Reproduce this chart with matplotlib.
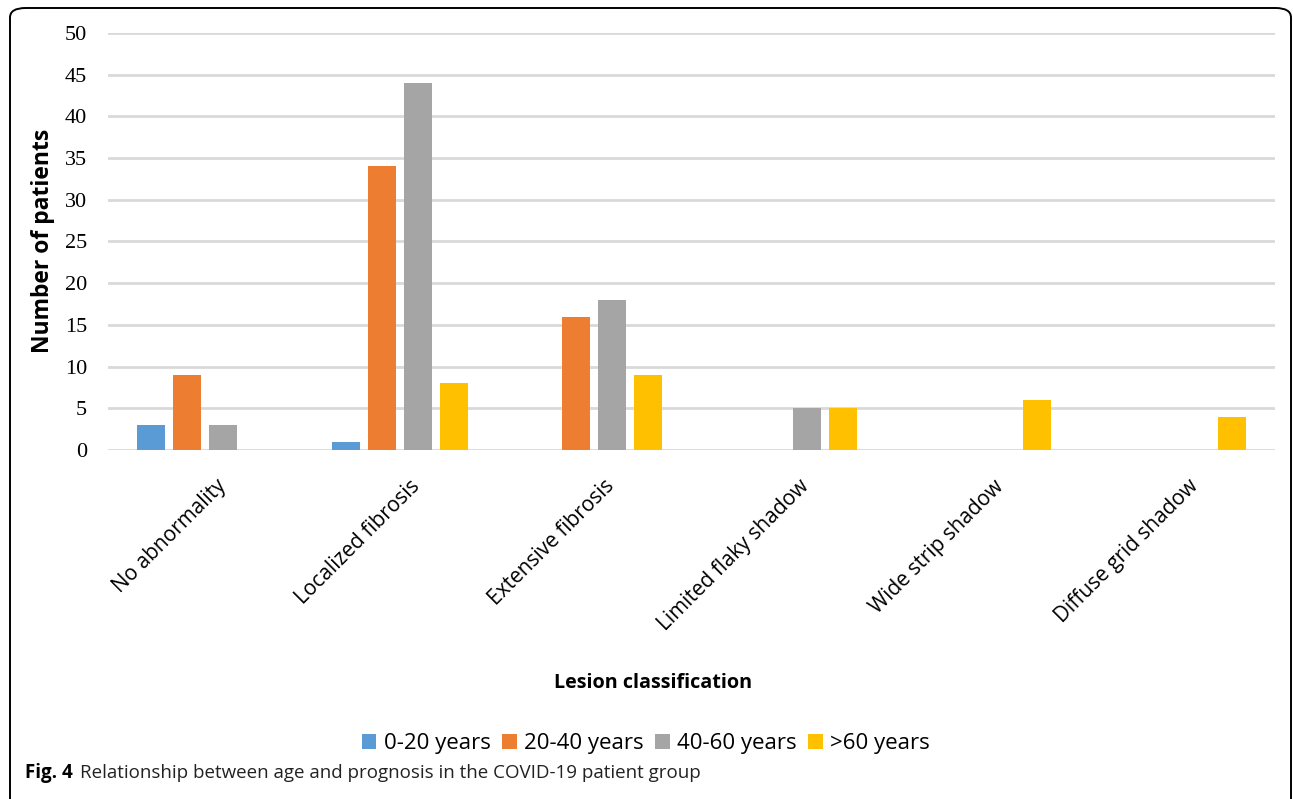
import matplotlib
matplotlib.use("Agg")
import matplotlib.pyplot as plt
import numpy as np
from matplotlib.patches import FancyBboxPatch

categories = ["No abnormality", "Localized fibrosis", "Extensive fibrosis",
              "Limited flaky shadow", "Wide strip shadow", "Diffuse grid shadow"]
series_names = ["0-20 years", "20-40 years", "40-60 years", ">60 years"]
age_0_20 = [3, 1, 0, 0, 0, 0]
age_20_40 = [9, 34, 16, 0, 0, 0]
age_40_60 = [3, 44, 18, 5, 0, 0]
age_60_plus = [0, 8, 9, 5, 6, 4]
yticks = [0, 5, 10, 15, 20, 25, 30, 35, 40, 45, 50]
colors = ["#5B9BD5", "#ED7D31", "#A5A5A5", "#FFC000"]

W, H = 1293, 799
fig = plt.figure(figsize=(W / 100, H / 100), dpi=100)

def fx(px):
    return px / W

def fy(py):
    return 1 - py / H

# border
border = FancyBboxPatch((fx(10), fy(830)), fx(1291) - fx(10), fy(8) - fy(830),
                        boxstyle="round,pad=0,rounding_size=0.012",
                        transform=fig.transFigure, fill=False,
                        edgecolor="black", linewidth=1.4, clip_on=False)
fig.patches.append(border)

ax = fig.add_axes([fx(108), fy(450), fx(1275) - fx(108), fy(33) - fy(450)])
x = np.arange(len(categories))
step = 0.185
width = 0.145
all_series = [age_0_20, age_20_40, age_40_60, age_60_plus]
for i, (vals, name, c) in enumerate(zip(all_series, series_names, colors)):
    ax.bar(x + (i - 1.5) * step, vals, width=width, color=c, label=name, zorder=3)

ax.set_xlim(-0.5, len(categories) - 0.5)
ax.set_ylim(0, 50)
ax.set_yticks(yticks)
ax.set_yticklabels([str(v) for v in yticks], fontfamily="Liberation Serif", fontsize=16)
ax.tick_params(axis="y", length=0, pad=15)
ax.tick_params(axis="x", length=0)
ax.grid(axis="y", color="#D9D9D9", linewidth=2, zorder=0)
for s in ax.spines.values():
    s.set_visible(False)
ax.set_xticks(x)
ax.set_xticklabels([])
for xi, cat in zip(x, categories):
    ax.annotate(cat, xy=(xi, 0), xycoords="data", xytext=(10, -26),
                textcoords="offset pixels", rotation=45, rotation_mode="anchor",
                ha="right", va="top", fontsize=15, fontfamily="Open Sans",
                color="#000000")

fig.text(fx(43), fy(241), "Number of patients", rotation=90, ha="center", va="center",
         fontsize=16.5, fontweight="bold", fontfamily="Open Sans")

fig.text(fx(653), fy(683), "Lesion classification", ha="center", va="center",
         fontsize=14.2, fontweight="bold", fontfamily="Open Sans")

leg = fig.legend(loc="center", bbox_to_anchor=(fx(646), fy(744)), ncol=4,
                 frameon=False, prop={"family": "Open Sans", "size": 16},
                 handlelength=0.65, handleheight=0.65, handletextpad=0.35,
                 columnspacing=0.5)

fig.text(fx(25), fy(773), "Fig. 4", ha="left", va="center", fontsize=13.5,
         fontweight="bold", fontfamily="Open Sans")
fig.text(fx(80), fy(773), "Relationship between age and prognosis in the COVID-19 patient group",
         ha="left", va="center", fontsize=13.5, fontfamily="Open Sans", color="#222222")

fig.savefig("out.png", dpi=100)
